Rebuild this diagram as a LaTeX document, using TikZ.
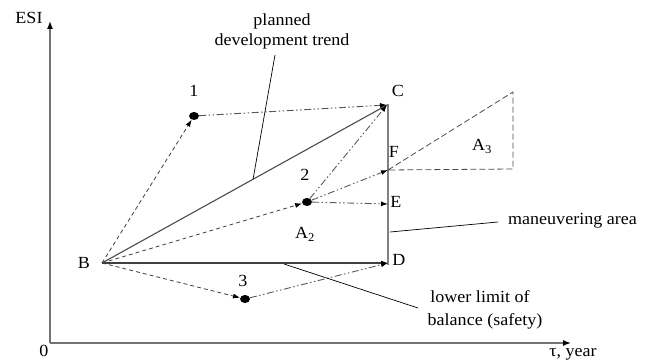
\documentclass[tikz,border=0pt]{standalone}
\usepackage{fontspec}
\setmainfont[FakeStretch=1.06]{Liberation Serif}
\usetikzlibrary{arrows.meta,shapes.geometric,calc}
\begin{document}
\begin{tikzpicture}[x=1pt,y=-1pt,
  lbl/.style={font=\fontsize{17}{20}\selectfont, inner sep=0pt, anchor=base},
  dotpt/.style={ellipse, fill=black, minimum width=10pt, minimum height=8pt, inner sep=0pt},
  tip/.style={-{Latex[length=7pt,width=5pt,color=black]}},
  shortdash/.style={dash pattern=on 4pt off 3pt, draw=black!75, line width=0.8pt},
  ddot/.style={dash pattern=on 7pt off 2.5pt on 1.5pt off 2.5pt on 1.5pt off 2.5pt, draw=black!65, line width=0.9pt},
  tridash/.style={dash pattern=on 6pt off 3pt, draw=black!70, line width=0.8pt},
  leader/.style={draw=black, line width=0.7pt},
  axis/.style={draw=black!55, line width=1.4pt}
]
\useasboundingbox (0,0) rectangle (651,363);

% axes
\coordinate (O) at (50,343);
\coordinate (Ytop) at (50,21);
\coordinate (Xend) at (571,343);
\draw[axis,-{Latex[length=8pt,width=6pt,color=black]}] (O) -- (Ytop);
\draw[axis,-{Latex[length=8pt,width=6pt,color=black]}] (O) -- (Xend);
\node[lbl] (esi) at (29,24) {ESI};
\node[lbl] (zero) at (44,357) {0};
\node[lbl] (tau) at (573,357) {τ, year};

% key points
\coordinate (B) at (102,263);
\coordinate (C) at (387,105);
\coordinate (Ctop) at (388,104);
\coordinate (D) at (388,263);
\coordinate (Dbot) at (388,265);
\coordinate (E) at (388,204);
\coordinate (F) at (388,170);
\coordinate (T) at (513,92);
\coordinate (Tb) at (513,169);
\node[dotpt] (p1) at (194,116) {};
\node[dotpt] (p2) at (307,202) {};
\node[dotpt] (p3) at (245,299) {};

% point labels
\node[lbl] (lB) at (84,269) {B};
\node[lbl] (lC) at (398,97) {C};
\node[lbl] (lD) at (399,266) {D};
\node[lbl] (lE) at (396,208) {E};
\node[lbl] (lF) at (394,158) {F};
\node[lbl] (l1) at (194,97) {1};
\node[lbl] (l2) at (305,181) {2};
\node[lbl] (l3) at (243,287) {3};
\node[lbl] (lA2) at (305,239) {A\textsubscript{2}};
\node[lbl] (lA3) at (482,151) {A\textsubscript{3}};

% main lines
\draw[draw=black!50, line width=2pt] (Ctop) -- (Dbot);
\draw[draw=black!70, line width=1.1pt] (B) -- (C);
\draw[draw=black!75, line width=1.1pt, tip] (B) -- (D);

% A3 triangle
\draw[tridash] (F) -- (T) -- (Tb) -- (F);

% trajectories
\draw[shortdash, tip] (B) -- (p1);
\draw[ddot, tip] (p1) -- (C);
\draw[shortdash, tip] (B) -- (p2);
\draw[ddot, tip] (p2) -- (C);
\draw[ddot, tip] (p2) -- (F);
\draw[ddot, tip] (p2) -- (E);
\draw[shortdash, tip] (B) -- (p3);
\draw[ddot, tip] (p3) -- (D);

% annotations
\node[lbl] (planned) at (282,26) {planned};
\node[lbl] (devtrend) at (282,46) {development trend};
\coordinate (pl1) at (275,55);
\coordinate (pl2) at ($(B)!0.53!(C)$);
\draw[leader] (pl1) -- (pl2);

\node[lbl, anchor=base west] (man) at (508,225) {maneuvering area};
\coordinate (m1) at (390,232);
\coordinate (m2) at (498,222);
\draw[leader] (m1) -- (m2);

\node[lbl] (low1) at (480,303) {lower limit of};
\node[lbl] (low2) at (485,326) {balance (safety)};
\coordinate (lw1) at (284,264);
\coordinate (lw2) at (418,308);
\draw[leader] (lw1) -- (lw2);
\end{tikzpicture}
\end{document}
